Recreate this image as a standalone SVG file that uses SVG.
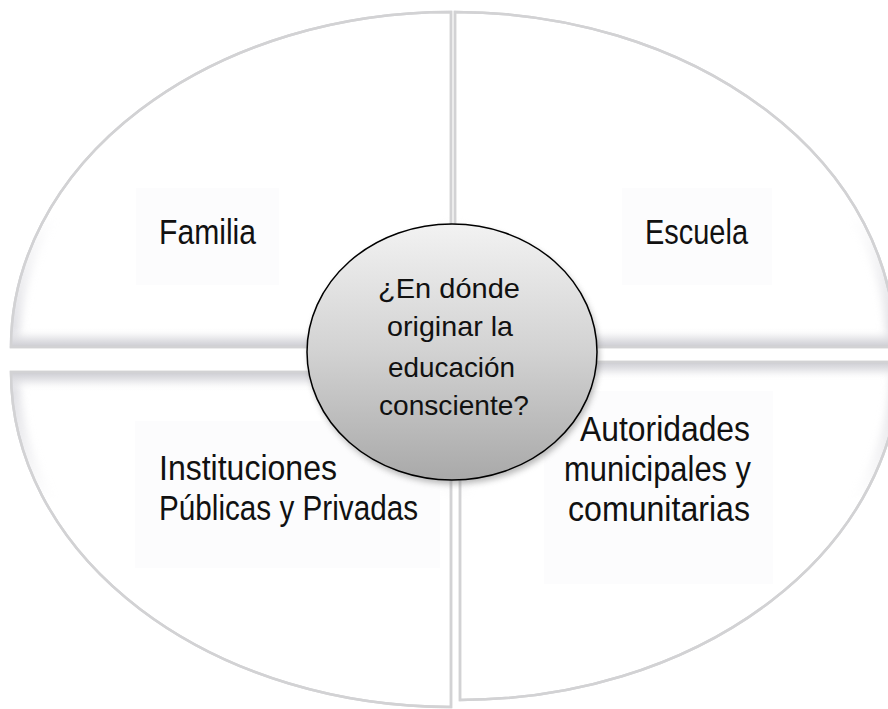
<svg xmlns="http://www.w3.org/2000/svg" width="888" height="709" viewBox="0 0 888 709">
<defs>
<style>
.q{fill:#ffffff;stroke:#d2d2d4;stroke-width:2.5}
.edge{fill:none;stroke:#d2d2d4;stroke-width:2.5}
.glow{fill:none;stroke:#d6d6dc;stroke-width:16;filter:url(#blur4)}
.box{fill:#fcfcfd}
.lbl{font-family:"Liberation Sans",Arial,sans-serif;font-size:35.5px;fill:#111}
.ctr{font-family:"Liberation Sans",Arial,sans-serif;font-size:28px;fill:#111}
</style>
<filter id="blur4" x="-10%" y="-10%" width="120%" height="120%"><feGaussianBlur stdDeviation="4"/></filter>
<filter id="blur3" x="-10%" y="-10%" width="120%" height="120%"><feGaussianBlur stdDeviation="3"/></filter>
<linearGradient id="bandDown" x1="0" y1="0" x2="0" y2="1">
<stop offset="0" stop-color="#ffffff" stop-opacity="0"/>
<stop offset="1" stop-color="#c9c9cf"/>
</linearGradient>
<linearGradient id="bandUp" x1="0" y1="0" x2="0" y2="1">
<stop offset="0" stop-color="#c9c9cf"/>
<stop offset="1" stop-color="#ffffff" stop-opacity="0"/>
</linearGradient>
<linearGradient id="maskTop" x1="0" y1="0" x2="0" y2="1">
<stop offset="0" stop-color="#000"/>
<stop offset="0.6" stop-color="#000"/>
<stop offset="1" stop-color="#fff"/>
</linearGradient>
<linearGradient id="maskBot" x1="0" y1="0" x2="0" y2="1">
<stop offset="0" stop-color="#fff"/>
<stop offset="0.4" stop-color="#000"/>
<stop offset="1" stop-color="#000"/>
</linearGradient>
<linearGradient id="ball" x1="0" y1="0" x2="0" y2="1">
<stop offset="0" stop-color="#f2f2f2"/>
<stop offset="0.5" stop-color="#d2d2d2"/>
<stop offset="1" stop-color="#a9a9a9"/>
</linearGradient>
<mask id="mTop" maskUnits="userSpaceOnUse" x="0" y="0" width="888" height="360"><rect x="0" y="0" width="888" height="360" fill="url(#maskTop)"/></mask>
<mask id="mBot" maskUnits="userSpaceOnUse" x="0" y="360" width="888" height="349"><rect x="0" y="360" width="888" height="349" fill="url(#maskBot)"/></mask>
<path id="pTL" d="M451,347 L451,12 A440,335 0 0 0 11,347 Z"/>
<path id="pTR" d="M455,347 L455,12 A440,335 0 0 1 895,347 Z"/>
<path id="pBL" d="M451,372 L11,372 A440,335 0 0 0 451,707 Z"/>
<path id="pBR" d="M460,362 L460,700 A440,338 0 0 0 900,362 Z"/>
<clipPath id="cTL"><use href="#pTL"/></clipPath>
<clipPath id="cTR"><use href="#pTR"/></clipPath>
<clipPath id="cBL"><use href="#pBL"/></clipPath>
<clipPath id="cBR"><use href="#pBR"/></clipPath>
</defs>
<rect width="888" height="709" fill="#ffffff"/>

<g id="familia">
<use href="#pTL" class="q"/>
<g clip-path="url(#cTL)">
<use href="#pTL" class="glow" mask="url(#mTop)"/>
<rect x="0" y="327" width="460" height="21" fill="url(#bandDown)"/>
</g>
<use href="#pTL" class="edge"/>
<rect class="box" x="136" y="188" width="143" height="97"/>
<text class="lbl" x="159" y="244" textLength="97" lengthAdjust="spacingAndGlyphs">Familia</text>
</g>

<g id="escuela">
<use href="#pTR" class="q"/>
<g clip-path="url(#cTR)">
<use href="#pTR" class="glow" mask="url(#mTop)"/>
<rect x="450" y="327" width="450" height="21" fill="url(#bandDown)"/>
</g>
<use href="#pTR" class="edge"/>
<rect class="box" x="622" y="188" width="150" height="97"/>
<text class="lbl" x="645" y="244" textLength="103" lengthAdjust="spacingAndGlyphs">Escuela</text>
</g>

<g id="instituciones">
<use href="#pBL" class="q"/>
<g clip-path="url(#cBL)">
<use href="#pBL" class="glow" mask="url(#mBot)"/>
<rect x="0" y="371" width="460" height="21" fill="url(#bandUp)"/>
</g>
<use href="#pBL" class="edge"/>
<rect class="box" x="135" y="421" width="305" height="147"/>
<text class="lbl" x="159" y="480" textLength="178" lengthAdjust="spacingAndGlyphs">Instituciones</text>
<text class="lbl" x="159" y="520" textLength="259" lengthAdjust="spacingAndGlyphs">Públicas y Privadas</text>
</g>

<g id="autoridades">
<use href="#pBR" class="q"/>
<g clip-path="url(#cBR)">
<use href="#pBR" class="glow" mask="url(#mBot)"/>
<rect x="455" y="361" width="450" height="19" fill="url(#bandUp)"/>
</g>
<use href="#pBR" class="edge"/>
<rect class="box" x="544" y="391" width="229" height="193"/>
<text class="lbl" x="580" y="441" textLength="170" lengthAdjust="spacingAndGlyphs">Autoridades</text>
<text class="lbl" x="564" y="481" textLength="187" lengthAdjust="spacingAndGlyphs">municipales y</text>
<text class="lbl" x="568" y="521" textLength="182" lengthAdjust="spacingAndGlyphs">comunitarias</text>
</g>

<g id="centro">
<ellipse cx="454" cy="356" rx="145" ry="128" fill="#7a7a7a" opacity="0.55" filter="url(#blur3)"/>
<ellipse cx="452" cy="352" rx="145" ry="128" fill="url(#ball)" stroke="#000" stroke-width="1.5"/>
<text class="ctr" x="378" y="298" textLength="142" lengthAdjust="spacingAndGlyphs">¿En dónde</text>
<text class="ctr" x="387" y="336" textLength="126" lengthAdjust="spacingAndGlyphs">originar la</text>
<text class="ctr" x="388" y="377" textLength="127" lengthAdjust="spacingAndGlyphs">educación</text>
<text class="ctr" x="379" y="415" textLength="150" lengthAdjust="spacingAndGlyphs">consciente?</text>
</g>

<g id="connectors"/>
</svg>
